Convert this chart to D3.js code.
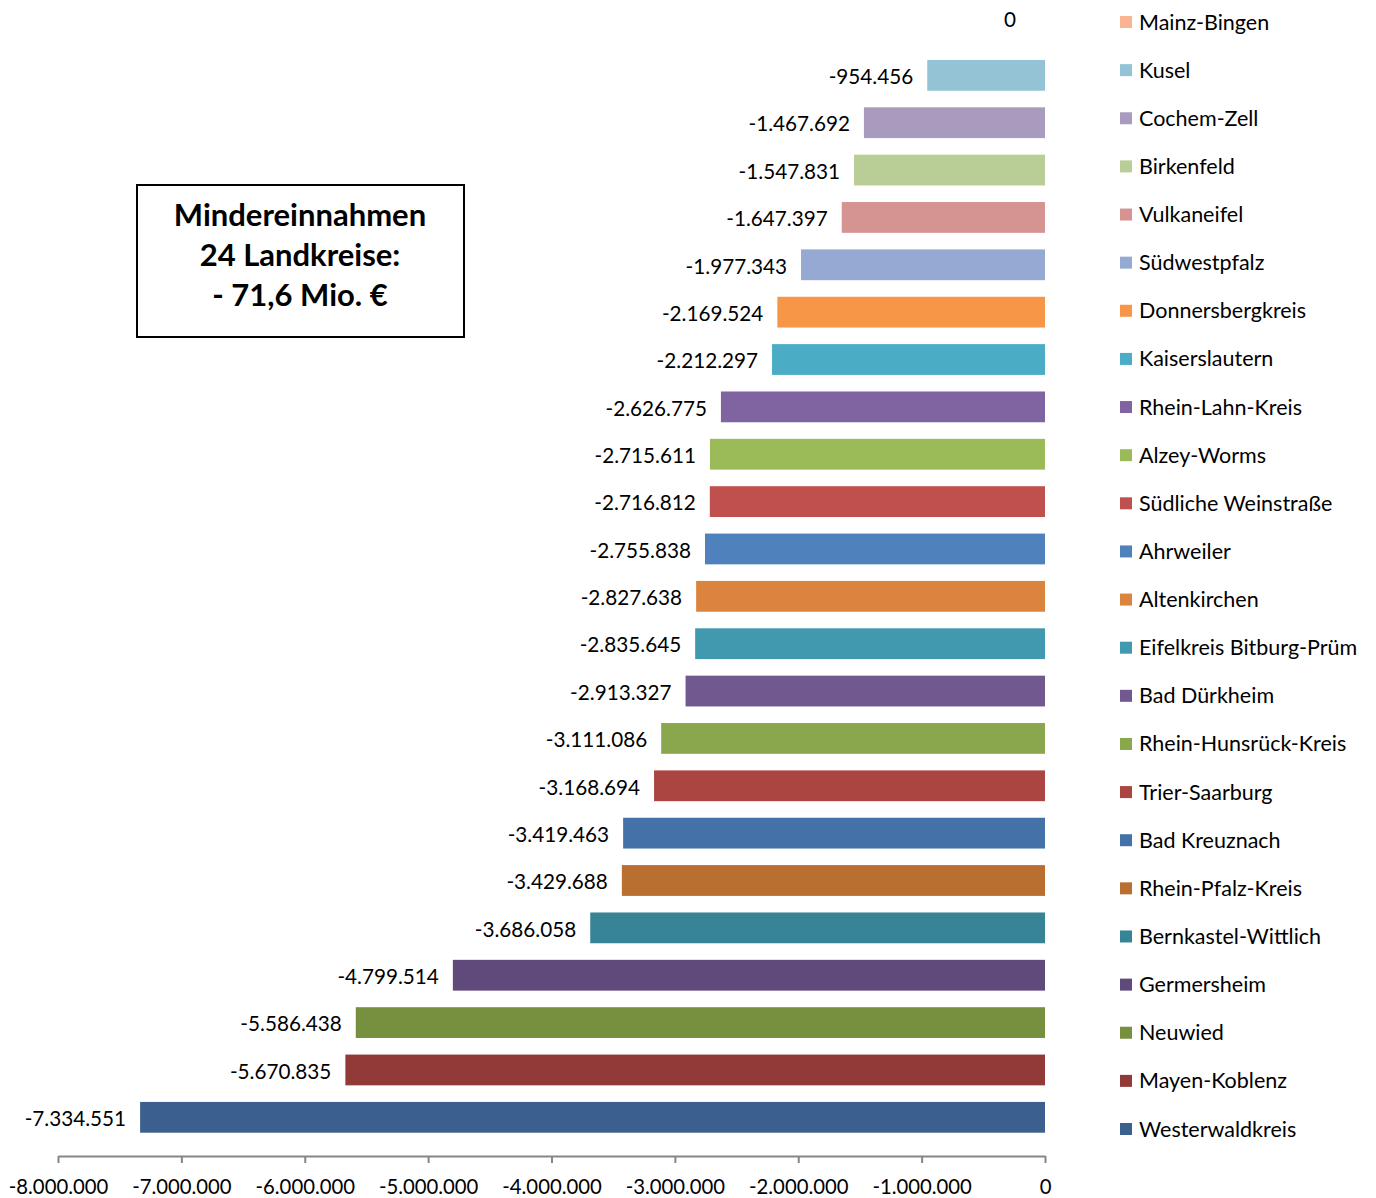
<!DOCTYPE html>
<html>
<head>
<meta charset="utf-8">
<script src="https://cdn.jsdelivr.net/npm/d3@7"></script>
<style>
  body { margin: 0; background: #fff; }
  svg { font-family: Lato, "Open Sans", sans-serif; }
</style>
</head>
<body>
<svg width="1376" height="1198"></svg>
<script>
// Landkreise, top to bottom
var kreise = ['Mainz-Bingen', 'Kusel', 'Cochem-Zell', 'Birkenfeld', 'Vulkaneifel', 'Südwestpfalz',
    'Donnersbergkreis', 'Kaiserslautern', 'Rhein-Lahn-Kreis', 'Alzey-Worms', 'Südliche Weinstraße',
    'Ahrweiler', 'Altenkirchen', 'Eifelkreis Bitburg-Prüm', 'Bad Dürkheim', 'Rhein-Hunsrück-Kreis',
    'Trier-Saarburg', 'Bad Kreuznach', 'Rhein-Pfalz-Kreis', 'Bernkastel-Wittlich', 'Germersheim',
    'Neuwied', 'Mayen-Koblenz', 'Westerwaldkreis'];
var werte = [0, -954456, -1467692, -1547831, -1647397, -1977343,
    -2169524, -2212297, -2626775, -2715611, -2716812,
    -2755838, -2827638, -2835645, -2913327, -3111086,
    -3168694, -3419463, -3429688, -3686058, -4799514,
    -5586438, -5670835, -7334551];
var farben = ['#f9b591', '#93c3d5', '#a99bbd', '#b9cd96', '#d59392', '#95a9d2',
    '#f79646', '#4bacc6', '#8064a2', '#9bbb59', '#c0504d',
    '#4f81bd', '#db843d', '#4199b0', '#71588f', '#8ba74e',
    '#ab4542', '#4472a8', '#b96f30', '#368496', '#5f4a7b',
    '#77903f', '#923a38', '#3b6090'];
var xTicks = [-8000000, -7000000, -6000000, -5000000, -4000000, -3000000, -2000000, -1000000, 0];
var boxText = ['Mindereinnahmen', '24 Landkreise:', '- 71,6 Mio. €'];

var de = d3.formatLocale({decimal: ',', thousands: '.', grouping: [3], currency: ['', ' €'], minus: '-'});
var fmt = de.format(',d');

var svg = d3.select('svg');

var x = d3.scaleLinear().domain([-8000000, 0]).range([58, 1045]);
var y = d3.scaleBand().domain(kreise).range([4.3, 1141]).paddingInner(0.35).paddingOuter(0.175);

// bars
svg.selectAll('rect.bar')
    .data(kreise)
    .enter().append('rect')
    .attr('class', 'bar')
    .attr('x', (d,i) => x(werte[i]))
    .attr('y', d => y(d))
    .attr('width', (d,i) => x(0) - x(werte[i]))
    .attr('height', y.bandwidth())
    .style('fill', (d,i) => farben[i]);

// value labels
svg.selectAll('text.val')
    .data(kreise)
    .enter().append('text')
    .attr('class', 'val')
    .attr('x', (d,i) => werte[i] == 0 ? x(0) - 29 : x(werte[i]) - 14)
    .attr('y', (d,i) => y(d) + y.bandwidth()/2 + (werte[i] == 0 ? -8 : 1.5))
    .attr('dy', '0.35em')
    .style('text-anchor', 'end')
    .style('font-size', '20.7px')
    .style('fill', '#000')
    .text((d,i) => fmt(werte[i]));

// x axis
var axis = svg.append('g')
    .attr('transform', 'translate(0,1156)')
    .call(d3.axisBottom(x).tickValues(xTicks).tickFormat(fmt).tickSize(7).tickSizeOuter(0).tickPadding(17));
axis.select('.domain').attr('stroke', '#868686').attr('stroke-width', 2);
axis.selectAll('.tick line').attr('stroke', '#868686').attr('stroke-width', 2);
axis.selectAll('.tick text')
    .style('font-size', '20.3px')
    .style('font-family', 'Lato, sans-serif')
    .attr('fill', '#000');

// legend
var lg = svg.append('g').attr('transform', 'translate(1120,0)');
var ly = d3.scalePoint().domain(kreise).range([22, 1129]);
var item = lg.selectAll('g')
    .data(kreise)
    .enter().append('g')
    .attr('transform', d => 'translate(0,' + ly(d) + ')');
item.append('rect')
    .attr('x', 0).attr('y', -6)
    .attr('width', 12).attr('height', 12)
    .style('fill', (d,i) => farben[i]);
item.append('text')
    .attr('x', 19)
    .attr('dy', '0.35em')
    .style('font-size', '21.5px')
    .style('fill', '#000')
    .text(d => d);

// summary box
svg.append('rect')
    .attr('x', 137).attr('y', 185)
    .attr('width', 327).attr('height', 152)
    .style('fill', '#fff')
    .style('stroke', '#000')
    .style('stroke-width', 2);
svg.selectAll('text.box')
    .data(boxText)
    .enter().append('text')
    .attr('class', 'box')
    .attr('x', 300)
    .attr('y', (d,i) => 215 + i*40)
    .attr('dy', '0.35em')
    .style('text-anchor', 'middle')
    .style('font-size', '31px')
    .style('font-weight', 'bold')
    .text(d => d);
</script>
</body>
</html>
